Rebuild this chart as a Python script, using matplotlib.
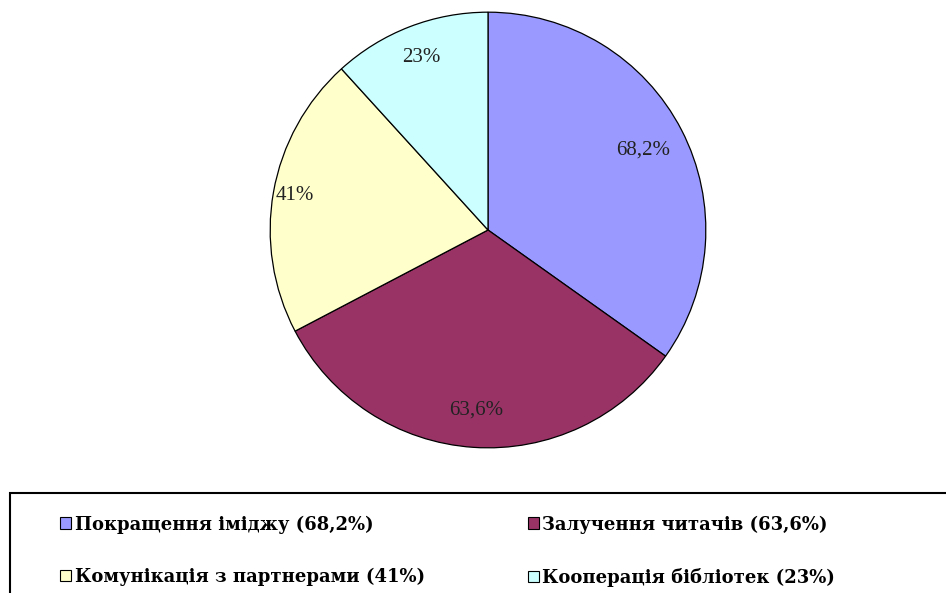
import numpy as np
import matplotlib.pyplot as plt
from matplotlib.patches import Patch, Rectangle

# Дані
categories = ["Покращення іміджу (68,2%)", "Залучення читачів (63,6%)",
              "Комунікація з партнерами (41%)", "Кооперація бібліотек (23%)"]
values = [68.2, 63.6, 41, 23]
pct_labels = ["68,2%", "63,6%", "41%", "23%"]
colors = ["#9999FF", "#993366", "#FFFFCC", "#CCFFFF"]
label_dist = [0.80, 0.83, 0.90, 0.85]

plt.rcParams['font.family'] = ['Liberation Serif', 'DejaVu Serif']

fig = plt.figure(figsize=(9.46, 5.93), dpi=100)
W, H = 946, 593
cx, cy, r = 488, 230, 220
ax = fig.add_axes([(cx - r) / W, (H - cy - r) / H, 2 * r / W, 2 * r / H])

wedges, _ = ax.pie(values, colors=colors, startangle=90, counterclock=False,
                   radius=1, wedgeprops=dict(edgecolor='black', linewidth=0.9))
ax.set_xlim(-1.01, 1.01)
ax.set_ylim(-1.01, 1.01)
ax.set_aspect('equal')
ax.axis('off')

# Підписи відсотків
for w, lab, d in zip(wedges, pct_labels, label_dist):
    ang = np.deg2rad((w.theta1 + w.theta2) / 2)
    ax.text(d * np.cos(ang), d * np.sin(ang), lab, ha='center', va='center',
            fontsize=15, color='#222222')

# Рамка легенди
fig.patches.append(Rectangle((10 / W, -0.01), 1.0, (H - 493) / H + 0.01,
                             transform=fig.transFigure, fill=False,
                             edgecolor='black', linewidth=1.5))

# порядок для заповнення по рядках (2 колонки)
order = [0, 2, 1, 3]
handles = [Patch(facecolor=colors[i], edgecolor='black', linewidth=0.8) for i in order]
fig.legend(handles, [categories[i] for i in order], ncol=2, loc='upper left',
           bbox_to_anchor=(44 / W, (H - 499) / H), frameon=False,
           prop=dict(family='DejaVu Serif', weight='bold', size=13),
           handlelength=0.6, handleheight=0.6,
           handletextpad=0.2, columnspacing=5.7, labelspacing=1.9)

fig.savefig("out.png", dpi=100)
